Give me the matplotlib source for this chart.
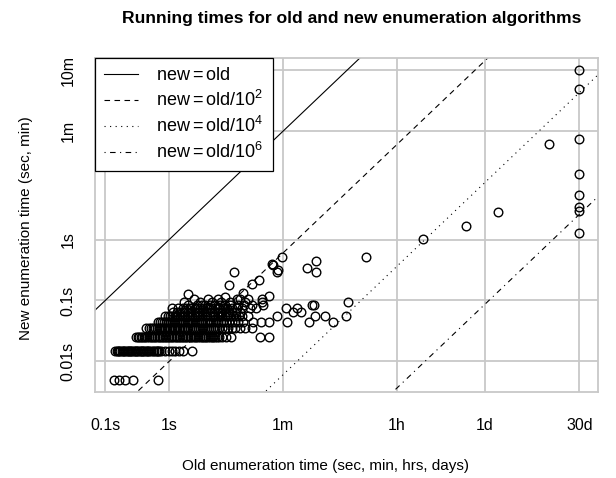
import numpy as np
import matplotlib
matplotlib.use("Agg")
import matplotlib.pyplot as plt

plt.rcParams['font.family'] = ['Liberation Sans', 'DejaVu Sans']
plt.rcParams['mathtext.fontset'] = 'custom'
plt.rcParams['mathtext.rm'] = 'Liberation Sans'
plt.rcParams['mathtext.it'] = 'Liberation Sans:italic'
plt.rcParams['mathtext.bf'] = 'Liberation Sans:bold'

# old running times (s) for the instances whose new running time is the given level
new_levels = [0.005, 0.015, 0.025, 0.035, 0.045, 0.055, 0.065, 0.075, 0.085, 0.095, 0.105]
old_at_0005 = [0.135, 0.166, 0.205, 0.27, 0.67]
old_at_0015 = [0.142, 0.150, 0.157, 0.165, 0.172, 0.18, 0.189, 0.197, 0.205, 0.215, 0.225,
               0.235, 0.245, 0.255, 0.265, 0.278, 0.29, 0.30, 0.315, 0.33, 0.345, 0.36,
               0.375, 0.39, 0.41, 0.43, 0.45, 0.47, 0.49, 0.52, 0.55, 0.58, 0.61, 0.64,
               0.67, 0.7, 0.74, 0.86, 1.0, 1.1, 1.25, 1.4, 1.63, 2.3]
old_at_0025 = [0.30, 0.32, 0.34, 0.36, 0.38, 0.40, 0.42, 0.45, 0.48, 0.51, 0.54, 0.57, 0.6,
               0.64, 0.68, 0.72, 0.76, 0.8, 0.85, 0.9, 0.95, 1.0, 1.06, 1.12, 1.19, 1.26,
               1.33, 1.4, 1.48, 1.57, 1.66, 1.76, 1.86, 1.97, 2.1, 2.2, 2.35, 2.5, 2.65, 2.8,
               3.0, 3.2, 3.4, 3.6, 3.8, 4.0, 4.3, 4.6, 4.9, 5.2, 5.6, 6.0, 6.7, 7.6, 9.2,
               26, 36]
old_at_0035 = [0.44, 0.48, 0.52, 0.56, 0.6, 0.64, 0.68, 0.72, 0.77, 0.82, 0.87, 0.92, 0.98,
               1.04, 1.1, 1.17, 1.24, 1.32, 1.4, 1.49, 1.58, 1.68, 1.78, 1.9, 2.0, 2.15, 2.3,
               2.45, 2.6, 2.8, 3.0, 3.2, 3.4, 3.65, 3.9, 4.2, 4.5, 4.8, 5.2, 5.6, 6.0, 6.7,
               7.4, 8.3, 9.5, 10.6, 12.7, 15.2, 19.8]
old_at_0045 = [0.67, 0.72, 0.77, 0.83, 0.89, 0.95, 1.02, 1.09, 1.17, 1.25, 1.34, 1.43, 1.53,
               1.64, 1.76, 1.88, 2.0, 2.15, 2.3, 2.5, 2.7, 2.9, 3.1, 3.3, 3.6, 3.9, 4.2, 4.5,
               4.9, 5.3, 5.8, 6.4, 7.0, 7.8, 8.6, 9.5, 10.5, 12, 14, 20.5, 27, 36, 70, 152,
               365]
old_at_0055 = [0.86, 0.95, 1.03, 1.12, 1.22, 1.34, 1.47, 1.6, 1.75, 1.92, 2.1, 2.3, 2.5,
               2.75, 3.0, 3.3, 3.6, 3.95, 4.3, 4.8, 5.2, 5.7, 6.2, 6.8, 7.4, 8.1, 8.9, 9.8,
               11, 12.2, 13.6, 17, 49, 187, 274, 580]
old_at_0065 = [1.14, 1.3, 1.47, 1.6, 1.7, 1.96, 2.2, 2.5, 2.7, 2.9, 3.3, 3.8, 4.3, 4.6, 5.0,
               5.8, 6.2, 6.7, 7.7, 8.5, 9.5, 11, 12.7, 85, 113]
old_at_0075 = [1.1, 1.35, 1.64, 1.85, 2.1, 2.3, 2.5, 2.75, 3.0, 3.4, 3.9, 4.2, 4.5, 5.2, 6.0,
               6.9, 7.4, 8.0, 9.5, 11.5, 13.6, 18.2, 22.6, 68, 100]
old_at_0085 = [2.0, 2.7, 3.2, 3.6, 4.4, 5.2, 6.3, 7.4, 9.0, 11.8, 15, 20, 29, 170, 182]
old_at_0095 = [1.7, 3.0, 4.6, 6.5, 8.9, 15.2, 28, 635]
old_at_0105 = [2.4, 4.1, 5.8, 11.3, 13, 17, 28]

# remaining (sparser) instances
old_other = [2592000, 2592000, 2592000, 2592000, 2592000, 2592000, 2592000, 2592000,
             870000, 140000, 44000, 9300, 1180, 196, 143, 196, 57, 42, 50, 48, 10.3,
             25.5, 20, 8.5, 14.2, 36.6, 2.0, 7.4, 41]
new_other = [600, 298, 45, 12, 5.3, 3.4, 2.9, 1.29,
             37.7, 2.8, 1.65, 1.03, 0.51, 0.45, 0.34, 0.29, 0.52, 0.38, 0.32, 0.29, 0.29,
             0.214, 0.187, 0.18, 0.134, 0.117, 0.128, 0.115, 0.40]

x_ticks = [0.1, 1, 60, 3600, 86400, 2592000]
x_labels = ['0.1s', '1s', '1m', '1h', '1d', '30d']
y_ticks = [0.01, 0.1, 1, 60, 600]
y_labels = ['0.01s', '0.1s', '1s', '1m', '10m']

rows = [old_at_0005, old_at_0015, old_at_0025, old_at_0035, old_at_0045, old_at_0055,
        old_at_0065, old_at_0075, old_at_0085, old_at_0095, old_at_0105]
old = np.concatenate([np.array(r, float) for r in rows] + [np.array(old_other, float)])
new = np.concatenate([np.full(len(r), lev) for r, lev in zip(rows, new_levels)]
                     + [np.array(new_other, float)])

W, H = 616, 478
fig = plt.figure(figsize=(W / 100, H / 100), dpi=100)
ax = fig.add_axes([95 / W, 1 - 392 / H, (598 - 95) / W, (392 - 58) / H])
ax.set_xscale('log')
ax.set_yscale('log')

# R style axis ranges: data range + 4% on each side (in log space)
lx = np.log10(old)
ly = np.log10(new)
px = 0.04 * (lx.max() - lx.min())
py = 0.04 * (ly.max() - ly.min())
ax.set_xlim(10 ** (lx.min() - px), 10 ** (lx.max() + px))
ax.set_ylim(10 ** (ly.min() - py), 10 ** (ly.max() + py))

grid_col = '#c8c8c8'
for t in x_ticks:
    ax.axvline(t, color=grid_col, lw=1.3, zorder=1)
for t in y_ticks:
    ax.axhline(t, color=grid_col, lw=1.3, zorder=1)

xx = np.array(ax.get_xlim())
styles = ['-', (0, (5, 4)), (0, (1, 4)), (0, (1, 4, 5, 4))]
labels = [r'$\mathrm{new} = \mathrm{old}$',
          r'$\mathrm{new} = \mathrm{old}/10^2$',
          r'$\mathrm{new} = \mathrm{old}/10^4$',
          r'$\mathrm{new} = \mathrm{old}/10^6$']
for k, ls, lab in zip([0, 2, 4, 6], styles, labels):
    ax.plot(xx, xx / 10 ** k, color='black', lw=0.8, ls=ls, label=lab, zorder=2)

ax.plot(old, new, 'o', mfc='none', mec='black', ms=6.2, mew=1.0, zorder=3)

ax.set_xticks(x_ticks)
ax.set_xticklabels(x_labels)
ax.set_yticks(y_ticks)
ax.set_yticklabels(y_labels, rotation=90, va='center')
ax.minorticks_off()
ax.tick_params(length=0, labelsize=11.5)
ax.tick_params(axis='x', pad=19)
ax.tick_params(axis='y', pad=14)
for s in ax.spines.values():
    s.set_color(grid_col)
    s.set_linewidth(1.3)

leg = ax.legend(loc='upper left', bbox_to_anchor=(0, 1), borderaxespad=0, fancybox=False,
                framealpha=1, edgecolor='black', fontsize=13, handlelength=1.9,
                handletextpad=1.0, labelspacing=0.33, borderpad=0.5)
leg.get_frame().set_linewidth(0.9)
leg.set_zorder(5)

fig.text(352 / W, 1 - 18 / H, 'Running times for old and new enumeration algorithms',
         ha='center', va='center', fontsize=12.6, fontweight='bold')
fig.text(326 / W, 1 - 466 / H, 'Old enumeration time (sec, min, hrs, days)',
         ha='center', va='center', fontsize=11)
fig.text(26 / W, 1 - 228 / H, 'New enumeration time (sec, min)', rotation=90,
         ha='center', va='center', fontsize=11)

fig.savefig('out.png', dpi=100)
